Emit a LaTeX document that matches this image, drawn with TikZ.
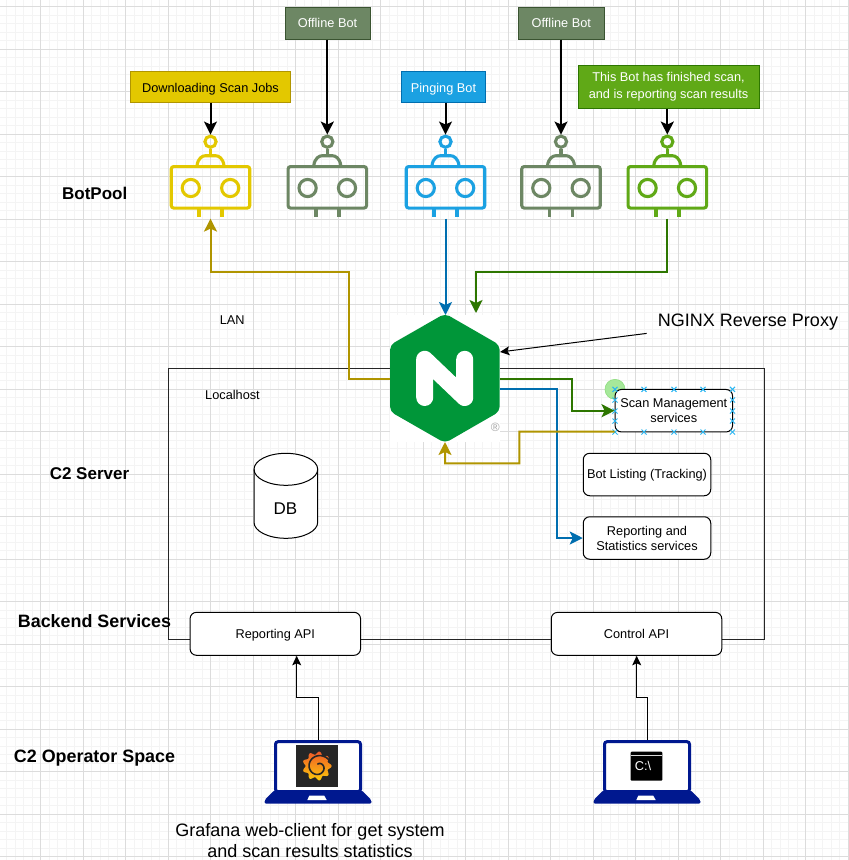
\documentclass[tikz,border=0pt]{standalone}
\usepackage{fontspec}
\setmainfont{Liberation Sans}
\usetikzlibrary{arrows.meta,calc}
\definecolor{gridminor}{HTML}{F4F4F4}
\definecolor{gridmajor}{HTML}{DCDCDC}
\definecolor{yfill}{HTML}{E3C800}
\definecolor{ystroke}{HTML}{B09500}
\definecolor{ofill}{HTML}{6D8764}
\definecolor{ostroke}{HTML}{3A5431}
\definecolor{bfill}{HTML}{1BA1E2}
\definecolor{bstroke}{HTML}{006EAF}
\definecolor{gfill}{HTML}{60A917}
\definecolor{gstroke}{HTML}{2D7600}
\definecolor{ngx}{HTML}{009639}
\definecolor{lapblue}{HTML}{00188F}
\definecolor{handle}{HTML}{29B6F2}
\definecolor{grafdark}{HTML}{262626}
\definecolor{grafa}{HTML}{F05A28}
\definecolor{grafb}{HTML}{FBCA0A}
\definecolor{hover}{HTML}{A6E89A}
\definecolor{hoverline}{HTML}{8EDD7E}
\tikzset{
  statebox/.style={draw=#1,line width=1pt,inner sep=0pt,align=center,
    font=\fontsize{12.75}{16.5}\selectfont},
  svcbox/.style={draw=black,fill=white,line width=1pt,rounded corners=6.5pt,inner sep=0pt,
    align=center,font=\fontsize{12.75}{15}\selectfont},
  oneline/.style={text height=11.1pt,text depth=2.5pt},
  onelinelow/.style={text height=13.6pt,text depth=2.5pt},
  plain/.style={inner sep=0pt,align=center,font=\fontsize{12.75}{15}\selectfont},
  big/.style={inner sep=0pt,align=center,font=\fontsize{18}{21}\selectfont},
  head17/.style={inner sep=0pt,font=\fontsize{17}{20}\bfseries\selectfont},
  head18/.style={inner sep=0pt,font=\fontsize{17.9}{21}\bfseries\selectfont},
  bigtip/.style={-{Stealth[length=13pt,width=13pt,inset=3pt]},line width=2pt},
  thintip/.style={-{Stealth[length=9.5pt,width=9pt,inset=2pt]},line width=1pt,draw=black},
  handlemark/.style={draw=handle,line width=1pt},
}
\newcommand{\robot}[3]{%
  \begin{scope}[shift={(#2,0)}]
    \node[draw=#3,line width=3.1pt,rounded corners=2.5pt,minimum width=78.5pt,minimum height=41.5pt,inner sep=0pt] (#1) at (0,187.3) {};
    \node[circle,draw=#3,line width=3.1pt,minimum size=11.2pt,inner sep=0pt] (#1h) at (0,141.7) {};
    \draw[#3,line width=3.1pt] (0,148.5) -- (0,155.5);
    \draw[#3,line width=3.1pt] (-13.5,165.5) .. controls (-12.5,158) and (-8,155.7) .. (-5,155.7) -- (5,155.7) .. controls (8,155.7) and (12.5,158) .. (13.5,165.5);
    \draw[#3,line width=3.1pt] (-19.7,188) circle[radius=8.6pt];
    \draw[#3,line width=3.1pt] (19.7,188) circle[radius=8.6pt];
    \draw[#3,line width=3.5pt] (-11.5,209) -- (-11.5,217);
    \draw[#3,line width=3.5pt] (11.5,209) -- (11.5,217);
  \end{scope}}
\newcommand{\laptop}[2]{%
  \begin{scope}[shift={(#2,0)}]
    \node[draw=lapblue,fill=white,line width=3pt,rounded corners=2.5pt,minimum width=85pt,minimum height=50pt,inner sep=0pt] (#1) at (0,766.7) {};
    \fill[lapblue,rounded corners=2pt] (-53.5,800) -- (-43.5,790) -- (43.5,790) -- (53.5,800) -- (53.5,803.7) -- (-53.5,803.7) -- cycle;
    \fill[white] (-10.7,800) -- (-8.7,795.7) -- (6.3,795.7) -- (8.7,800) -- cycle;
  \end{scope}}
\begin{document}
\begin{tikzpicture}[x=1pt,y=-1pt]
\useasboundingbox (0,0) rectangle (849,860);
\fill[white] (0,0) rectangle (849,860);
% grid
\foreach \k in {0,...,100} {
  \pgfmathsetmacro{\gx}{-1.7+8.5*\k}
  \pgfmathsetmacro{\gy}{6.8+8.5*\k}
  \draw[gridminor,line width=1.2pt] (\gx,0) -- (\gx,860);
  \draw[gridminor,line width=1.2pt] (0,\gy) -- (849,\gy);
}
\foreach \k in {0,...,20} {
  \pgfmathsetmacro{\gx}{-1.7+42.5*\k}
  \pgfmathsetmacro{\gy}{6.8+42.5*\k}
  \draw[gridmajor,line width=1pt] (\gx,0) -- (\gx,860);
  \draw[gridmajor,line width=1pt] (0,\gy) -- (849,\gy);
}
% container
\draw[black!85,line width=1pt] (168.7,368) rectangle (764,639);
% state boxes
\node[statebox=ystroke,onelinelow,fill=yfill,minimum width=160pt,minimum height=31pt,text=black] (dl) at (210.5,86.5) {Downloading Scan Jobs};
\node[statebox=ostroke,oneline,fill=ofill,minimum width=85pt,minimum height=32pt,text=white] (off1) at (327.5,23) {Offline Bot};
\node[statebox=bstroke,onelinelow,fill=bfill,minimum width=84pt,minimum height=31pt,text=white] (ping) at (443.5,86.5) {Pinging Bot};
\node[statebox=ostroke,oneline,fill=ofill,minimum width=85.5pt,minimum height=32pt,text=white] (off2) at (561.3,23) {Offline Bot};
\node[statebox=gstroke,fill=gfill,minimum width=181pt,minimum height=43pt,text=white] (rep) at (668.5,86.5) {This Bot has finished scan,\\and is reporting scan results};
% bots
\robot{bota}{210.5}{yfill}
\robot{botb}{327.3}{ofill}
\robot{botc}{445.5}{bfill}
\robot{botd}{561}{ofill}
\robot{bote}{667.3}{gfill}
% nginx
\node[fill=white,minimum width=110pt,minimum height=127pt,inner sep=0pt,outer sep=0pt] (nginx) at (445,378.5) {};
\fill[ngx,rounded corners=5pt] (445,313.5) -- (499.7,345) -- (499.7,411.5) -- (445,443) -- (390,411.5) -- (390,345) -- cycle;
\draw[white,line width=17pt,line cap=round,line join=round] (424.7,397.5) -- (424.7,359.3) -- (464.7,397.5) -- (464.7,359.3);
\node[inner sep=0pt,text=black!35,font=\fontsize{12}{13}\selectfont] (reg) at (495.3,427) {®};
% services
\fill[hover] (615,389.3) circle[radius=10pt];
\draw[hoverline,line width=.6pt] (615,389.3) circle[radius=10pt];
\node[svcbox,minimum width=117.5pt,minimum height=42.5pt] (scan) at (673.8,410.7) {Scan Management\\services};
\node[svcbox,oneline,minimum width=127.5pt,minimum height=42.5pt] (list) at (647,474.5) {Bot Listing (Tracking)};
\node[svcbox,minimum width=127.5pt,minimum height=42.5pt] (stat) at (647,538) {Reporting and\\Statistics services};
\node[svcbox,oneline,minimum width=170.5pt,minimum height=43pt] (rapi) at (275.3,633.8) {Reporting API};
\node[svcbox,oneline,minimum width=170.5pt,minimum height=43pt] (capi) at (636.5,633.8) {Control API};
% selection handles
\foreach \hx/\hy in {615/389.3,644/389.3,674/389.3,703/389.3,732.5/389.3,615/432,644/432,674/432,703/432,732.5/432,615/400,615/411,615/421,732.5/400,732.5/411,732.5/421} {
  \draw[handlemark] (\hx-2.5,\hy-2.5) -- (\hx+2.5,\hy+2.5);
  \draw[handlemark] (\hx-2.5,\hy+2.5) -- (\hx+2.5,\hy-2.5);
}
% DB
\draw[black,fill=white,line width=1pt] (254,469.3) -- (254,522.3) .. controls (254,531.1) and (268.2,538.3) .. (285.85,538.3) .. controls (303.5,538.3) and (317.7,531.1) .. (317.7,522.3) -- (317.7,469.3) .. controls (317.7,460.5) and (303.5,453.3) .. (285.85,453.3) .. controls (268.2,453.3) and (254,460.5) .. (254,469.3) -- cycle;
\draw[black,line width=1pt] (254,469.3) .. controls (254,478.1) and (268.2,485.3) .. (285.85,485.3) .. controls (303.5,485.3) and (317.7,478.1) .. (317.7,469.3);
\node[inner sep=0pt,font=\fontsize{17}{20}\selectfont] (db) at (285.5,509) {DB};
% laptops
\laptop{lapa}{318}
\laptop{lapb}{647}
% grafana icon
\node[fill=grafdark,minimum size=42.3pt,inner sep=0pt] (graf) at (317.2,766.2) {};
\shade[top color=grafa,bottom color=grafb] plot[domain=0:356,samples=100] ({317+(13+1.6*cos(9*\x))*cos(\x)},{766+(13+1.6*cos(9*\x))*sin(\x)}) -- cycle;
\draw[grafdark,line width=1.6pt,line cap=round] plot[domain=0:450,samples=60] ({318.5+(13-\x*10/450)*cos(-15-\x)},{767+(13-\x*10/450)*sin(-15-\x)});
% cmd icon
\node[fill=black,rounded corners=1pt,minimum width=31.6pt,minimum height=29pt,inner sep=0pt] (cmd) at (646.5,766.2) {};
\draw[black!15,line width=.7pt] (631,755.7) -- (662,755.7);
\node[inner sep=0pt,text=white,font=\fontsize{12.75}{15}\selectfont] (cmdt) at (643,766) {C:\textbackslash};
% texts
\node[big] (ngt) at (748,322) {NGINX Reverse Proxy};
\coordinate (ngtail) at (646.7,333.4);
\node[plain] (lan) at (232.3,320) {LAN};
\node[plain] (lh) at (232.5,394.5) {Localhost};
\node[head17] (bp) at (94.7,193) {BotPool};
\node[head17] (c2s) at (89.5,474) {C2 Server};
\node[head18] (bes) at (94.5,621.5) {Backend Services};
\node[head18] (c2o) at (94.5,758) {C2 Operator Space};
\node[big,anchor=north] (cap) at (310,823) {Grafana web-client for get system\\and scan results statistics};
% black arrows to bots
\draw[bigtip] (dl.south -| botah.north) -- (botah.north);
\draw[bigtip] (off1.south -| botbh.north) -- (botbh.north);
\draw[bigtip] (ping.south -| botch.north) -- (botch.north);
\draw[bigtip] (off2.south -| botdh.north) -- (botdh.north);
\draw[bigtip] (rep.south -| boteh.north) -- (boteh.north);
% coloured connectors
\draw[bigtip,draw=ystroke] (nginx.west) -- (349,378.5) -- (349,271.5) -- (210.5,271.5) -- ([yshift=-9pt]bota.south);
\draw[bigtip,draw=bstroke] ([yshift=-9pt]botc.south) -- (botc.south |- nginx.north);
\draw[bigtip,draw=gstroke] ([yshift=-9pt]bote.south) -- (667.3,271.5) -- (476,271.5) -- ([xshift=31pt,yshift=2pt]nginx.north);
\draw[bigtip,draw=gstroke] (nginx.east) -- (571.7,378.5) -- (571.7,410.7) -- (scan.west);
\draw[bigtip,draw=bstroke] ([yshift=-10pt]nginx.east) -- (556.7,388.5) -- (556.7,538) -- (stat.west);
\draw[bigtip,draw=ystroke] ([yshift=-21pt]scan.west) -- (519.3,431.5) -- (519.3,463.3) -- (445,463.3) -- (nginx.south);
\draw[thintip] (ngtail) -- ([yshift=26.5pt]nginx.east);
\draw[thintip] (lapa.north) -- (318,697.3) -- (296.7,697.3) -- (rapi.south -| 296.7,0);
\draw[thintip] (lapb.north) -- (647,697.7) -- (636.7,697.7) -- (capi.south -| 636.7,0);
\end{tikzpicture}
\end{document}
